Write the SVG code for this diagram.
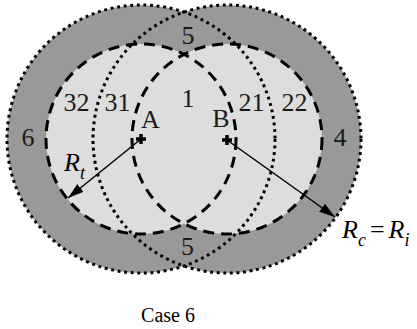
<svg xmlns="http://www.w3.org/2000/svg" width="417" height="329" viewBox="0 0 417 329">
<defs>
<style>
.outerfill{fill:#999999;stroke:none}
.innerfill{fill:#dddddd;stroke:none}
.dotted{fill:none;stroke:#000;stroke-width:3;stroke-dasharray:2.9 3.7}
.dashed{fill:none;stroke:#000;stroke-width:3;stroke-dasharray:11 7}
.cross{stroke:#000;stroke-width:3.5;fill:none}
.arrow{stroke:#000;stroke-width:1.5;fill:none}
.lbl{font-family:"Liberation Serif","Times New Roman",serif;font-size:26px;fill:#1a1a1a;text-anchor:middle}
.math{font-family:"Liberation Serif","Times New Roman",serif;font-size:26px;font-style:italic;fill:#000}
.cap{font-family:"Liberation Serif","Times New Roman",serif;font-size:20px;fill:#000;text-anchor:middle}
</style>
<marker id="ah" viewBox="0 0 16 10" refX="16" refY="5" markerWidth="16" markerHeight="10" markerUnits="userSpaceOnUse" orient="auto">
<path d="M0,0 L16,5 L0,10 Z" fill="#000"/>
</marker>
</defs>
<rect width="417" height="329" fill="#fff"/>
<g id="fills">
<circle class="outerfill" cx="141" cy="139" r="134"/>
<circle class="outerfill" cx="227" cy="139" r="134"/>
<circle class="innerfill" cx="141" cy="139" r="95"/>
<circle class="innerfill" cx="227" cy="139" r="95"/>
</g>
<g id="outer-circles">
<circle id="outer-A" class="dotted" cx="141" cy="139" r="134"/>
<circle id="outer-B" class="dotted" cx="227" cy="139" r="134"/>
</g>
<g id="inner-circles">
<circle id="inner-A" class="dashed" cx="141" cy="139" r="95"/>
<circle id="inner-B" class="dashed" cx="227" cy="139" r="95"/>
</g>
<g id="node-A">
<path class="cross" d="M136,139 H146 M141,134 V144"/>
<text class="lbl" x="150.5" y="128">A</text>
</g>
<g id="node-B">
<path class="cross" d="M222,140 H232 M227,135 V145"/>
<text class="lbl" x="221" y="127">B</text>
</g>
<g id="connectors">
<line class="arrow" x1="141" y1="139" x2="68" y2="198" marker-end="url(#ah)"/>
<line class="arrow" x1="227" y1="140" x2="335" y2="217" marker-end="url(#ah)"/>
</g>
<g id="labels">
<text class="lbl" x="188" y="44">5</text>
<text class="lbl" x="187.5" y="255">5</text>
<text class="lbl" x="76.5" y="111">32</text>
<text class="lbl" x="117.5" y="111">31</text>
<text class="lbl" x="188" y="107">1</text>
<text class="lbl" x="251.5" y="111">21</text>
<text class="lbl" x="294.5" y="111">22</text>
<text class="lbl" x="28" y="146">6</text>
<text class="lbl" x="340" y="146">4</text>
<text class="math" x="64" y="171">R<tspan font-size="18" dy="8">t</tspan></text>
<text class="math" x="342" y="238">R<tspan font-size="18" dy="8">c</tspan><tspan font-style="normal" dy="-8" dx="4">=</tspan><tspan dx="4">R</tspan><tspan font-size="18" dy="8">i</tspan></text>
<text class="cap" x="168" y="322">Case 6</text>
</g>
</svg>
